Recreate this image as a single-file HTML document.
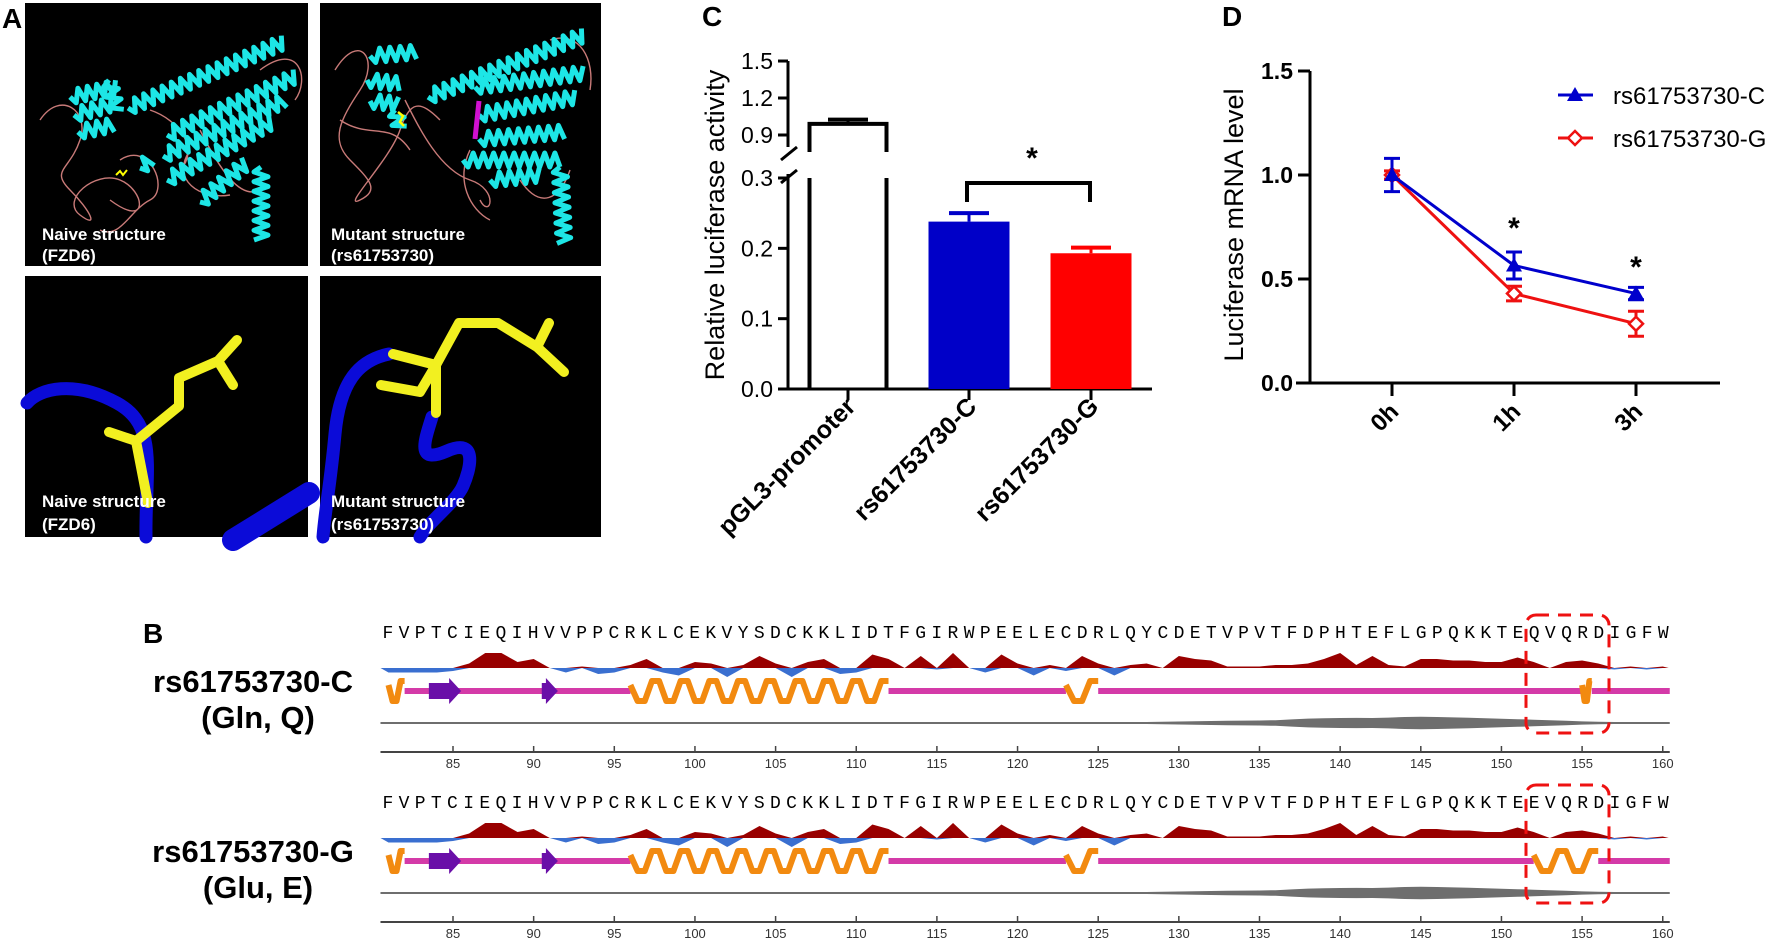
<!DOCTYPE html>
<html><head><meta charset="utf-8"><style>
html,body{margin:0;padding:0;background:#fff}
svg{display:block;font-family:"Liberation Sans",Arial,sans-serif}
</style></head><body>
<svg id="fig" width="1772" height="941" viewBox="0 0 1772 941" xmlns="http://www.w3.org/2000/svg">
<g id="panelA">
  <text x="2" y="28" font-size="28" font-weight="bold">A</text>
  <rect x="25" y="3" width="283" height="263" fill="#000"/>
  <rect x="320" y="3" width="281" height="263" fill="#000"/>
  <rect x="25" y="276" width="283" height="261" fill="#000"/>
  <rect x="320" y="276" width="281" height="261" fill="#000"/>
  <g id="loops" fill="none" stroke="#c87a78" stroke-width="1.4">
    <path d="M40 120 C60 90 90 110 80 140 S50 170 70 190 S100 230 80 215 S95 170 120 180 S150 230 110 200 M120 160 C150 140 170 190 150 200 S120 240 100 230 M150 110 C180 120 200 150 180 170 M190 150 C170 180 200 200 230 195 M260 70 C300 40 310 80 295 100 M200 130 C220 170 240 200 260 190"/>
    <path d="M335 70 C360 30 380 60 360 90 S330 140 350 160 S380 190 360 200 S390 160 400 130 S420 100 440 120 M405 100 C420 130 440 170 470 180 S490 220 480 200 M340 120 C370 140 390 120 410 150 M550 40 C580 30 595 60 590 90 M520 180 C540 210 560 200 570 170 M470 150 C455 180 470 210 490 220"/>
  </g>
  <g id="helices" fill="none" stroke="#1de6e6" stroke-width="5" stroke-linejoin="round"></g>
  <line x1="479" y1="101" x2="475" y2="139" stroke="#d010d0" stroke-width="5"/>
  <path d="M116 175 l4 -4 l3 4 l4 -5" stroke="#ff0" stroke-width="2" fill="none"/>
  <path d="M398 112 l5 4 l-3 6 l4 4" stroke="#ff0" stroke-width="2.5" fill="none"/>
  <g fill="none" stroke="#0b0bd8" stroke-linecap="round">
    <path d="M27 403 C40 388 75 380 117 403 S145 470 146 537" stroke-width="13"/>
    <path d="M233 540 L309 493" stroke-width="22"/>
    <path d="M389 354 C360 360 340 380 335 434 S325 510 323 537" stroke-width="13"/>
    <path d="M432 417 C425 440 415 465 447 451 S470 470 463 486 S430 520 420 537" stroke-width="13"/>
  </g>
  <g fill="none" stroke="#f2f020" stroke-width="10" stroke-linecap="round" stroke-linejoin="round">
    <path d="M109 432 L136 441 L179 406 L179 378 L218 361 L237 340 M218 361 L233 385 M136 441 L148 503"/>
    <path d="M393 354 L436 365 L459 323 L498 323 L537 347 L564 372 M537 347 L549 323 M381 385 L420 392 L436 365 L436 413"/>
  </g>
  <g fill="#fff" font-size="17" font-weight="bold">
    <text x="42" y="240">Naive structure</text>
    <text x="42" y="261">(FZD6)</text>
    <text x="331" y="240">Mutant structure</text>
    <text x="331" y="261">(rs61753730)</text>
    <text x="42" y="507">Naive structure</text>
    <text x="42" y="530">(FZD6)</text>
    <text x="331" y="507">Mutant structure</text>
    <text x="331" y="530">(rs61753730)</text>
  </g>
</g>

<g id="panelC">
  <text x="702" y="26" font-size="28" font-weight="bold">C</text>
  <text transform="translate(724,225) rotate(-90)" text-anchor="middle" font-size="27">Relative luciferase activity</text>
</g>
<g id="panelD">
  <text x="1222" y="26" font-size="28" font-weight="bold">D</text>
  <text transform="translate(1243,225) rotate(-90)" text-anchor="middle" font-size="27">Luciferase mRNA level</text>
</g>
<g id="panelB">
  <text x="143" y="643" font-size="28" font-weight="bold">B</text>
  <text x="253" y="692" text-anchor="middle" font-size="31" font-weight="bold">rs61753730-C</text>
  <text x="258" y="728" text-anchor="middle" font-size="31" font-weight="bold">(Gln, Q)</text>
  <text x="253" y="862" text-anchor="middle" font-size="31" font-weight="bold">rs61753730-G</text>
  <text x="258" y="898" text-anchor="middle" font-size="31" font-weight="bold">(Glu, E)</text>
</g>
</svg>
<script>
// ---------- Panel C data ----------
const cCategories = ["pGL3-promoter", "rs61753730-C", "rs61753730-G"];
const cValues = [0.99, 0.238, 0.193];
const cErrors = [0.035, 0.012, 0.008];
const cLowTicks = [0.0, 0.1, 0.2, 0.3];
const cHighTicks = [0.9, 1.2, 1.5];
// ---------- Panel D data ----------
const dTimes = ["0h", "1h", "3h"];
const dSeriesC = [1.0, 0.565, 0.43];
const dErrC = [0.08, 0.065, 0.03];
const dSeriesG = [1.0, 0.43, 0.285];
const dErrG = [0.02, 0.035, 0.06];
const dTicks = [0.0, 0.5, 1.0, 1.5];
const dSeriesNames = ["rs61753730-C", "rs61753730-G"];
// ---------- Panel B data ----------
const seqC = "FVPTCIEQIHVVPPCRKLCEKVYSDCKKLIDTFGIRWPEELECDRLQYCDETVPVTFDPHTEFLGPQKKTEQVQRDIGFW";
const seqG = "FVPTCIEQIHVVPPCRKLCEKVYSDCKKLIDTFGIRWPEELECDRLQYCDETVPVTFDPHTEFLGPQKKTEEVQRDIGFW";
const hydro = [-0.3,-0.3,-0.3,-0.3,-0.2,0.3,1.0,1.0,0.4,0.6,0,-0.3,0.1,-0.4,-0.3,0.2,0.6,-0.3,-0.5,0.4,0.3,-0.6,0.2,0.8,0.3,-0.6,0.4,0.6,-0.4,-0.3,0.9,0.6,0,0.8,-0.1,1.0,0,-0.3,0.9,0.3,-0.5,0.2,-0.2,0.8,0.3,-0.5,0.2,0.3,0,0.8,0.6,0.5,0.1,0.1,0.1,0.2,0.2,0.3,0.6,1.0,0.2,0.8,0.2,0.1,0.6,0.6,0.5,0.5,0.4,0.4,0.7,0.4,0,0.4,0.5,0.3,-0.1,0.1,-0.1,0.1];
const helicesC = [[81,82],[96,112],[123,125],[155,155.6]];
const helicesG = [[81,82],[96,112],[123,125],[152,156]];
const strands = [[84,86],[91,92]];
const residueTicks = [85,90,95,100,105,110,115,120,125,130,135,140,145,150,155,160];
const disorder = [0,0,0,0,0,0,0,0,0,0,0,0,0,0,0,0,0,0,0,0,0,0,0,0,0,0,0,0,0,0,0,0,0,0,0,0,0,0,0,0,0,0,0,0,0,0,0,0,0.3,0.5,0.7,1.0,1.2,1.4,1.5,1.8,2.6,3.4,3.8,4.0,4.1,4.0,4.4,5.0,5.2,5.0,4.6,4.2,3.8,3.3,2.8,2.3,1.8,1.2,0.6,0.3,0,0,0,0];

const NS = "http://www.w3.org/2000/svg";
function mk(parent, tag, attrs, text) {
  const e = document.createElementNS(NS, tag);
  for (const k in attrs) e.setAttribute(k, attrs[k]);
  if (text !== undefined) e.textContent = text;
  parent.appendChild(e);
  return e;
}

// ---------- Panel A helices ----------
(function(){
  const g = document.getElementById('helices');
  const H = [[128,108,284,42],[167,135,296,76],[163,156,284,101],[167,180,272,122],[200,202,246,163],[261,167,261,240],
             [70,97,117,87],[74,115,113,104],[78,132,113,125],[109,80,117,111],[140,168,150,160],
             [428,97,584,35],[475,87,584,73],[479,115,576,97],[479,139,564,132],[463,160,560,160],[490,180,540,175],[560,167,564,243],
             [370,56,416,52],[367,80,400,84],[370,101,398,104],[395,110,400,128]];
  H.forEach(h => {
    const [x1,y1,x2,y2] = h;
    const L = Math.hypot(x2-x1,y2-y1), ux=(x2-x1)/L, uy=(y2-y1)/L, nx=-uy, ny=ux;
    let d = "M"+x1+" "+y1; const n = Math.max(2,Math.round(L/5));
    for (let i=1;i<=n;i++){ const t=i*L/n, s=(i%2?7:-7); d+=" L"+(x1+ux*t+nx*s).toFixed(1)+" "+(y1+uy*t+ny*s).toFixed(1); }
    const p = mk(g,'path',{d:d});
    
    
  });
})();

// ---------- Panel C ----------
(function(){
  const g = document.getElementById('panelC');
  const ax = 788, y0 = 389;
  const yLow = v => y0 - v*703.3;
  const yHigh = v => 135 - (v-0.9)*123.3;
  const yv = v => v <= 0.3 ? yLow(v) : yHigh(v);
  const xs = [848, 969, 1091], bw = [77, 81, 81];
  const fills = ["#fff", "#0000c8", "#ff0000"];
  // axis
  mk(g,'line',{x1:ax,y1:y0,x2:ax,y2:yLow(0.3)-4,stroke:'#000','stroke-width':3});
  mk(g,'line',{x1:ax,y1:yHigh(0.9)+12,x2:ax,y2:yHigh(1.5),stroke:'#000','stroke-width':3});
  mk(g,'line',{x1:781,y1:183,x2:797,y2:170,stroke:'#000','stroke-width':3});
  mk(g,'line',{x1:781,y1:160,x2:797,y2:147,stroke:'#000','stroke-width':3});
  mk(g,'line',{x1:778,y1:y0,x2:1152,y2:y0,stroke:'#000','stroke-width':3});
  cLowTicks.concat(cHighTicks).forEach(v => {
    const y = yv(v);
    mk(g,'line',{x1:778,y1:y,x2:ax,y2:y,stroke:'#000','stroke-width':3});
    const t = mk(g,'text',{x:773,y:y+8,'text-anchor':'end','font-size':23},v.toFixed(1));
    
    
  });
  cValues.forEach((v,i) => {
    const x = xs[i], w = bw[i];
    if (v > 0.3) {
      const top = yv(v);
      const p = mk(g,'path',{d:`M${x-w/2} ${y0} L${x-w/2} ${yLow(0.3)} M${x-w/2} 152 L${x-w/2} ${top} L${x+w/2} ${top} L${x+w/2} 152 M${x+w/2} ${yLow(0.3)} L${x+w/2} ${y0}`,fill:'none',stroke:'#000','stroke-width':4});
      
      
      mk(g,'line',{x1:x,y1:top,x2:x,y2:yv(v+cErrors[i]),stroke:'#000','stroke-width':3});
      mk(g,'line',{x1:x-20,y1:yv(v+cErrors[i]),x2:x+20,y2:yv(v+cErrors[i]),stroke:'#000','stroke-width':4});
    } else {
      mk(g,'line',{x1:x,y1:yv(v),x2:x,y2:yv(v+cErrors[i]),stroke:fills[i],'stroke-width':3});
      mk(g,'line',{x1:x-20,y1:yv(v+cErrors[i]),x2:x+20,y2:yv(v+cErrors[i]),stroke:fills[i],'stroke-width':4});
      const r = mk(g,'rect',{x:x-w/2,y:yv(v),width:w,height:y0-yv(v),fill:fills[i]});
      
      
    }
    mk(g,'line',{x1:x,y1:y0,x2:x,y2:y0+11,stroke:'#000','stroke-width':3});
    const t = mk(g,'text',{transform:`translate(${x+9},${y0+19}) rotate(-45)`,'text-anchor':'end','font-size':25,'font-weight':'bold'},cCategories[i]);
    
    
  });
  const br = mk(g,'path',{d:'M967 202 L967 183 L1090 183 L1090 202',fill:'none',stroke:'#000','stroke-width':4});
  
  
  const st = mk(g,'text',{x:1032,y:168,'text-anchor':'middle','font-size':30,'font-weight':'bold'},'*');
  
  
})();

// ---------- Panel D ----------
(function(){
  const g = document.getElementById('panelD');
  const ax = 1310, y0 = 383;
  const yv = v => y0 - v*208;
  const xv = i => 1392 + i*122;
  mk(g,'line',{x1:ax,y1:y0,x2:ax,y2:yv(1.5),stroke:'#000','stroke-width':3});
  mk(g,'line',{x1:1296,y1:y0,x2:1720,y2:y0,stroke:'#000','stroke-width':3});
  dTicks.forEach(v => {
    mk(g,'line',{x1:1298,y1:yv(v),x2:ax,y2:yv(v),stroke:'#000','stroke-width':3});
    const t = mk(g,'text',{x:1293,y:yv(v)+8,'text-anchor':'end','font-size':23,'font-weight':'bold'},v.toFixed(1));
    
    
  });
  dTimes.forEach((s,i) => {
    mk(g,'line',{x1:xv(i),y1:y0,x2:xv(i),y2:y0+13,stroke:'#000','stroke-width':3});
    const t = mk(g,'text',{transform:`translate(${xv(i)+8},${y0+30}) rotate(-45)`,'text-anchor':'end','font-size':24,'font-weight':'bold'},s);
    
    
  });
  function series(vals, errs, color, marker, name){
    const sg = mk(g,'g',{});
    
    
    mk(sg,'polyline',{points:vals.map((v,i)=>xv(i)+','+yv(v)).join(' '),fill:'none',stroke:color,'stroke-width':3});
    vals.forEach((v,i) => {
      const x = xv(i), yt = yv(v+errs[i]), yb = yv(v-errs[i]);
      mk(sg,'path',{d:`M${x} ${yt} L${x} ${yb} M${x-8} ${yt} L${x+8} ${yt} M${x-8} ${yb} L${x+8} ${yb}`,stroke:color,'stroke-width':3,fill:'none'});
      const y = yv(v);
      let m;
      if (marker==='tri') m = mk(sg,'path',{d:`M${x} ${y-8} L${x+8} ${y+6} L${x-8} ${y+6} Z`,fill:color});
      else m = mk(sg,'path',{d:`M${x} ${y-7} L${x+7} ${y} L${x} ${y+7} L${x-7} ${y} Z`,fill:'#fff',stroke:color,'stroke-width':2.5});
      
      
    });
  }
  series(dSeriesG, dErrG, '#ee1111', 'dia', dSeriesNames[1]);
  series(dSeriesC, dErrC, '#0000cc', 'tri', dSeriesNames[0]);
  [1,2].forEach(i => {
    const t = mk(g,'text',{x:xv(i),y:[0,238,277][i],'text-anchor':'middle','font-size':30,'font-weight':'bold'},'*');
    
    
  });
  // legend
  const lg = mk(g,'g',{});
  
  
  [[95,'#0000cc','tri'],[138,'#ee1111','dia']].forEach((L,k) => {
    const [y,c,mt] = L;
    mk(lg,'line',{x1:1558,y1:y,x2:1593,y2:y,stroke:c,'stroke-width':3});
    if (mt==='tri') mk(lg,'path',{d:`M1575 ${y-8} L1583 ${y+6} L1567 ${y+6} Z`,fill:c});
    else mk(lg,'path',{d:`M1575 ${y-7} L1582 ${y} L1575 ${y+7} L1568 ${y} Z`,fill:'#fff',stroke:c,'stroke-width':2.5});
    const t = mk(lg,'text',{x:1613,y:y+9,'font-size':24},dSeriesNames[k]);
    
    
  });
})();

// ---------- Panel B ----------
(function(){
  const g = document.getElementById('panelB');
  const px = r => 453 + (r-85)*16.13;
  function row(seq, helices, dy, name){
    const rg = mk(g,'g',{});
    
    
    const st = mk(rg,'text',{x:px(81)-6,y:638+dy,'font-family':'"Liberation Mono",monospace','font-size':18,textLength:px(160)-px(81)+12,lengthAdjust:'spacing'},seq);
    
    
    // hydrophobicity
    const base = 668+dy, sc = 15;
    let up = `M${px(81)-8} ${base}`, dn = `M${px(81)-8} ${base}`;
    hydro.forEach((v,i) => { const x = px(81+i); up += ` L${x} ${base - Math.max(v,0)*sc}`; dn += ` L${x} ${base - Math.min(v,0)*sc}`; });
    up += ` L${px(160)+6} ${base} Z`; dn += ` L${px(160)+6} ${base} Z`;
    const hu = mk(rg,'path',{d:up,fill:'#990000'});
    
    
    const hd = mk(rg,'path',{d:dn,fill:'#3a6fd0'});
    
    
    // secondary structure
    const sy = 691+dy;
    mk(rg,'line',{x1:px(81),y1:sy,x2:px(160)+7,y2:sy,stroke:'#d43aa8','stroke-width':6});
    strands.forEach(s => {
      const a = mk(rg,'path',{d:`M${px(s[0])-8} ${sy-8} L${px(s[1])-20} ${sy-8} L${px(s[1])-20} ${sy-13} L${px(s[1])-8} ${sy} L${px(s[1])-20} ${sy+13} L${px(s[1])-20} ${sy+8} L${px(s[0])-8} ${sy+8} Z`,fill:'#6a0fa8'});
      
      
    });
    helices.forEach(h => {
      const x1 = px(h[0]), x2 = px(h[1]);
      mk(rg,'rect',{x:x1,y:sy-4,width:x2-x1,height:8,fill:'#fff'});
      const n = Math.max(1, Math.round((x2-x1)/28));
      const w = (x2-x1)/n;
      let d = `M${x1} ${sy-6}`;
      for (let i=0;i<n;i++){ d += ` L${x1+w*(i+0.25)} ${sy+10} L${x1+w*(i+0.5)} ${sy+10} L${x1+w*(i+0.75)} ${sy-10} L${x1+w*(i+1)} ${sy-10}`; }
      const p = mk(rg,'path',{d:d,fill:'none',stroke:'#f28a10','stroke-width':6,'stroke-linejoin':'round'});
      
      
    });
    // disorder track
    const gy = 723+dy;
    let dt = `M${px(81)-8} ${gy-1}`, db = '';
    disorder.forEach((v,i)=>{ dt += ` L${px(81+i)} ${gy-1-v}`; });
    dt += ` L${px(160)+7} ${gy-1} L${px(160)+7} ${gy+1}`;
    for (let i=disorder.length-1;i>=0;i--) dt += ` L${px(81+i)} ${gy+1+disorder[i]}`;
    dt += ` L${px(81)-8} ${gy+1} Z`;
    const dp = mk(rg,'path',{d:dt,fill:'#6e6e6e'});
    
    
    // residue axis
    const ay = 752+dy;
    mk(rg,'line',{x1:px(81)-8,y1:ay,x2:px(160)+7,y2:ay,stroke:'#444','stroke-width':2});
    residueTicks.forEach(r => {
      mk(rg,'line',{x1:px(r),y1:ay-6,x2:px(r),y2:ay,stroke:'#444','stroke-width':1.5});
      const t = mk(rg,'text',{x:px(r),y:ay+16,'text-anchor':'middle','font-size':13,fill:'#333'},String(r));
      
      
    });
    // highlight box
    const bx = mk(rg,'rect',{x:1526,y:615+dy,width:83,height:118,rx:10,fill:'none',stroke:'#ee1111','stroke-width':3,'stroke-dasharray':'13 9'});
    
    
  }
  row(seqC, helicesC, 0, 'c');
  row(seqG, helicesG, 170, 'g');
})();
</script>
</body></html>
